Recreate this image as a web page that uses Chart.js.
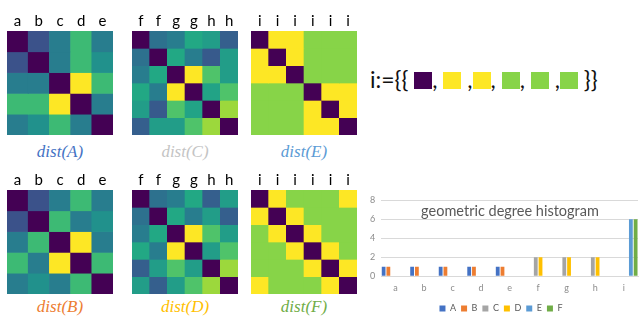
<!DOCTYPE html>
<html>
<head>
<meta charset="utf-8">
<script src="https://cdn.jsdelivr.net/npm/chart.js@4.4.0/dist/chart.umd.min.js"></script>
<style>
  body { margin: 0; width: 640px; height: 317px; background: #fff; position: relative; overflow: hidden; font-family: Lato, sans-serif; }
  canvas { position: absolute; }
  .cap { position: absolute; width: 140px; text-align: center; font: italic 17px "Liberation Serif", serif; line-height: 20px; }
  .set { position: absolute; left: 370px; top: 65px; font-size: 23px; color: #111; white-space: nowrap; line-height: 28px; }
  .sq { display: inline-block; width: 18px; height: 17px; vertical-align: -1px; }
  .title { position: absolute; left: 380px; top: 202px; width: 260px; text-align: center; font-size: 14.5px; color: #595959; }
</style>
</head>
<body>
<canvas id="hmA" width="106" height="123" style="left:7px;top:12px"></canvas>
<canvas id="hmC" width="106" height="123" style="left:132px;top:12px"></canvas>
<canvas id="hmE" width="106" height="123" style="left:251px;top:12px"></canvas>
<canvas id="hmB" width="106" height="123" style="left:7px;top:171px"></canvas>
<canvas id="hmD" width="106" height="123" style="left:132px;top:171px"></canvas>
<canvas id="hmF" width="106" height="123" style="left:251px;top:171px"></canvas>

<div class="cap" style="left:-10px;top:142px;color:#4472c4">dist(A)</div>
<div class="cap" style="left:115px;top:142px;color:#c4c4c4">dist(C)</div>
<div class="cap" style="left:234px;top:142px;color:#5b9bd5">dist(E)</div>
<div class="cap" style="left:-10px;top:297px;color:#ed7d31">dist(B)</div>
<div class="cap" style="left:115px;top:297px;color:#ffc000">dist(D)</div>
<div class="cap" style="left:234px;top:297px;color:#70ad47">dist(F)</div>

<div class="set" id="setI"></div>

<canvas id="hist" width="276" height="134" style="left:364px;top:189px"></canvas>
<div class="title">geometric degree histogram</div>

<script>
// heatmap column labels
const colsAB = ['a', 'b', 'c', 'd', 'e'];
const colsCD = ['f', 'f', 'g', 'g', 'h', 'h'];
const colsEF = ['i', 'i', 'i', 'i', 'i', 'i'];

// distance matrices, normalised 0..1
const distA = [
  [0, 0.25, 0.42, 0.68, 0.42],
  [0.25, 0, 0.42, 0.68, 0.5],
  [0.42, 0.42, 0, 1, 0.68],
  [0.68, 0.68, 1, 0, 0.42],
  [0.42, 0.5, 0.68, 0.42, 0]
];
const distB = [
  [0, 0.25, 0.42, 0.68, 0.42],
  [0.25, 0, 0.68, 0.42, 0.5],
  [0.42, 0.68, 0, 1, 0.42],
  [0.68, 0.42, 1, 0, 0.68],
  [0.42, 0.5, 0.42, 0.68, 0]
];
const distC = [
  [0, 0.37, 0.42, 0.6, 0.55, 0.3],
  [0.37, 0, 0.6, 0.42, 0.28, 0.55],
  [0.42, 0.6, 0, 1, 0.72, 0.55],
  [0.6, 0.42, 1, 0, 0.58, 0.72],
  [0.55, 0.28, 0.72, 0.58, 0, 0.85],
  [0.3, 0.55, 0.55, 0.72, 0.85, 0]
];
const distD = [
  [0, 0.37, 0.42, 0.6, 0.3, 0.55],
  [0.37, 0, 0.6, 0.42, 0.55, 0.3],
  [0.42, 0.6, 0, 1, 0.72, 0.55],
  [0.6, 0.42, 1, 0, 0.55, 0.72],
  [0.3, 0.55, 0.72, 0.55, 0, 0.85],
  [0.55, 0.3, 0.55, 0.72, 0.85, 0]
];
const distE = [
  [0, 1, 1, 0.82, 0.82, 0.82],
  [1, 0, 1, 0.82, 0.82, 0.82],
  [1, 1, 0, 0.82, 0.82, 0.82],
  [0.82, 0.82, 0.82, 0, 1, 1],
  [0.82, 0.82, 0.82, 1, 0, 1],
  [0.82, 0.82, 0.82, 1, 1, 0]
];
const distF = [
  [0, 1, 0.82, 0.82, 0.82, 1],
  [1, 0, 1, 0.82, 0.82, 0.82],
  [0.82, 1, 0, 1, 0.82, 0.82],
  [0.82, 0.82, 1, 0, 1, 0.82],
  [0.82, 0.82, 0.82, 1, 0, 1],
  [1, 0.82, 0.82, 0.82, 1, 0]
];

// the multiset i := {{ ... }}
const setIValues = [0, 1, 1, 0.82, 0.82, 0.82];
const setISeparators = [', ', ' ,', ', ', ', ', ' ,', ''];

// histogram
const histCategories = ['a', 'b', 'c', 'd', 'e', 'f', 'g', 'h', 'i'];
const histA = [1, 1, 1, 1, 1, 0, 0, 0, 0];
const histB = [1, 1, 1, 1, 1, 0, 0, 0, 0];
const histC = [0, 0, 0, 0, 0, 2, 2, 2, 0];
const histD = [0, 0, 0, 0, 0, 2, 2, 2, 0];
const histE = [0, 0, 0, 0, 0, 0, 0, 0, 6];
const histF = [0, 0, 0, 0, 0, 0, 0, 0, 6];
const yTicks = { min: 0, max: 8, step: 2 };

const VIRIDIS = [
  [68, 1, 84], [72, 36, 117], [65, 68, 135], [53, 95, 141], [42, 120, 142],
  [33, 145, 140], [34, 168, 132], [68, 191, 112], [122, 209, 81], [189, 223, 38], [253, 231, 37]
];

function viridis(t) {
  const x = Math.max(0, Math.min(1, t)) * (VIRIDIS.length - 1);
  const i = Math.min(Math.floor(x), VIRIDIS.length - 2);
  const f = x - i;
  const c = VIRIDIS[i].map((v, k) => Math.round(v + (VIRIDIS[i + 1][k] - v) * f));
  return `rgb(${c[0]},${c[1]},${c[2]})`;
}

/**
 * One heatmap = stacked bars, one dataset per matrix row
 */
function heatmap(id, labels, matrix) {
  new Chart(document.getElementById(id), {
    type: 'bar',
    data: {
      labels,
      datasets: matrix.map(row => ({
        data: row.map(() => 1),
        backgroundColor: row.map(viridis),
        borderWidth: 0,
        barPercentage: 1,
        categoryPercentage: 1
      }))
    },
    options: {
      responsive: false,
      animation: false,
      layout: { padding: 0 },
      plugins: { legend: { display: false }, tooltip: { enabled: false } },
      scales: {
        x: {
          position: 'top',
          stacked: true,
          grid: { display: false, drawTicks: false },
          border: { display: false },
          ticks: { color: '#000', padding: 2, font: { family: 'Lato', size: 15, lineHeight: 1 } }
        },
        y: { stacked: true, reverse: true, min: 0, max: matrix.length, display: false }
      }
    }
  });
}

heatmap('hmA', colsAB, distA);
heatmap('hmB', colsAB, distB);
heatmap('hmC', colsCD, distC);
heatmap('hmD', colsCD, distD);
heatmap('hmE', colsEF, distE);
heatmap('hmF', colsEF, distF);

// the i:={{ ... }} line as text with coloured squares
const setEl = document.getElementById('setI');
setEl.append('i:={{ ');
setIValues.forEach((v, k) => {
  const sq = document.createElement('span');
  sq.className = 'sq';
  sq.style.background = viridis(v);
  setEl.append(sq, setISeparators[k]);
});
setEl.append(' }}');

const seriesColors = ['#4472c4', '#ed7d31', '#a5a5a5', '#ffc000', '#5b9bd5', '#70ad47'];
const series = [['A', histA], ['B', histB], ['C', histC], ['D', histD], ['E', histE], ['F', histF]];

new Chart(document.getElementById('hist'), {
  type: 'bar',
  data: {
    labels: histCategories,
    datasets: series.map(([label, data], i) => ({
      label,
      data,
      backgroundColor: seriesColors[i],
      barPercentage: 0.8,
      categoryPercentage: 1
    }))
  },
  options: {
    responsive: false,
    animation: false,
    layout: { padding: { top: 3, right: 2, bottom: 0 } },
    plugins: {
      tooltip: { enabled: false },
      legend: {
        position: 'bottom',
        labels: { boxWidth: 6, boxHeight: 6, padding: 5, color: '#595959', font: { family: 'Lato', size: 9 } }
      }
    },
    scales: {
      x: {
        grid: { display: false, drawTicks: false },
        border: { color: '#d9d9d9' },
        ticks: { padding: 6, color: '#8c8c8c', font: { family: 'Lato', size: 9 } }
      },
      y: {
        min: yTicks.min,
        max: yTicks.max,
        grid: { color: '#d9d9d9', drawTicks: false },
        border: { display: false },
        ticks: { stepSize: yTicks.step, padding: 6, color: '#8c8c8c', font: { family: 'Lato', size: 9 } }
      }
    }
  }
});
</script>
</body>
</html>
